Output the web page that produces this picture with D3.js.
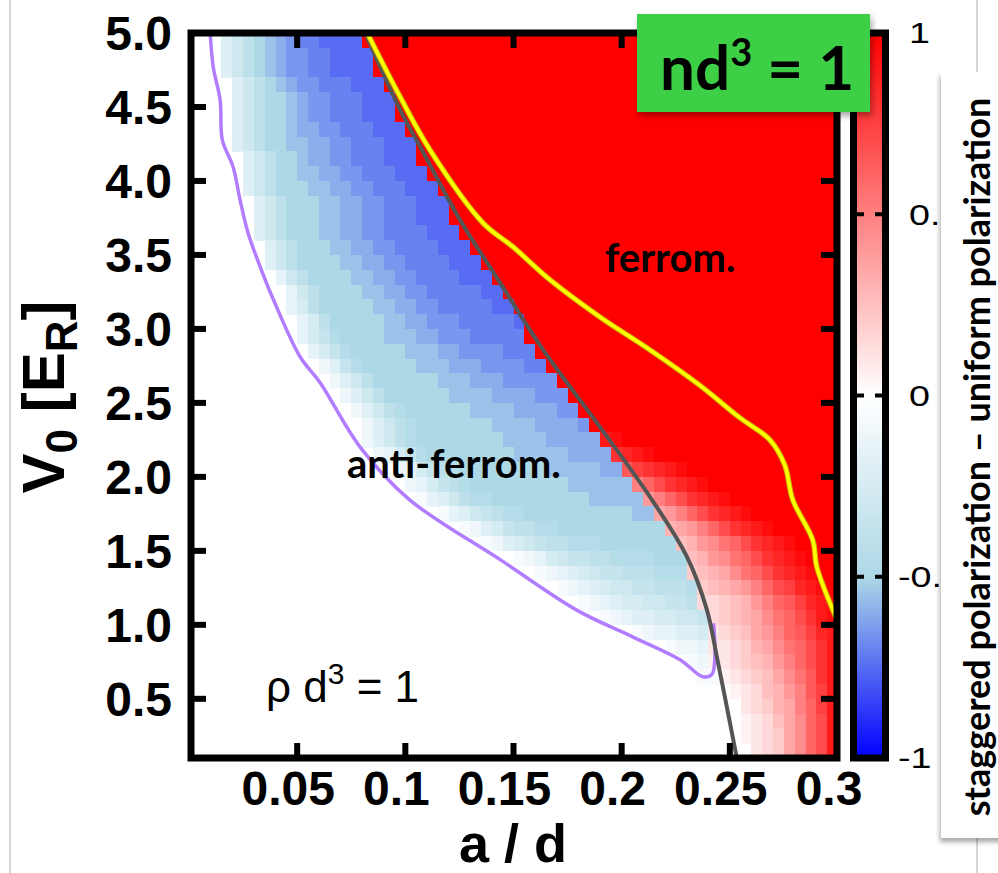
<!DOCTYPE html>
<html><head><meta charset="utf-8">
<script src="https://cdn.jsdelivr.net/npm/d3@7"></script>
<style>
html,body{margin:0;padding:0;background:#fff;}
svg{display:block;}
</style></head><body>
<svg id="chart" width="998" height="873"></svg>
<script>
// ---------------- data ----------------
const xTicks = [0.05, 0.1, 0.15, 0.2, 0.25, 0.3];
const xTickLabels = ["0.05", "0.1", "0.15", "0.2", "0.25", "0.3"];
const yTicks = [0.5, 1.0, 1.5, 2.0, 2.5, 3.0, 3.5, 4.0, 4.5, 5.0];
const yTickLabels = ["0.5", "1.0", "1.5", "2.0", "2.5", "3.0", "3.5", "4.0", "4.5", "5.0"];
const cbTicks = [1, 0.5, 0, -0.5, -1];
const cbTickLabels = ["1", "0.5", "0", "-0.5", "-1"];

// grid: columns a/d = 0 .. 0.3 step 0.005 ; rows V0 = 0.1 .. 5.0 step 0.1
const colStep = 0.005, nCols = 60, rowStep = 0.1;
// each row: [V0 lower edge, first coloured column, anti-ferro codes, ferro codes]
// codes: 'A'..'T' = -0.05 .. -1.0 ; 'a'..'t' = +0.05 .. +1.0 ; '.' = empty
// ferro cells run to the last column; cells past the listed codes are saturated (+1)
const heatRows = [
  [4.9, 3, "DFHJKLMNNOOOO", ""],
  [4.8, 3, "DFHJKLMMNNOOOO", ""],
  [4.7, 3, "DFHJKLMMNNOOOO", ""],
  [4.6, 4, "DFHJKLMMNNNOOO", ""],
  [4.5, 4, "DFHJJKLMMNNNOOO", ""],
  [4.4, 4, "DFHJJKLMMNNNOOO", ""],
  [4.3, 4, "DFHJJKLLMMNNNOOO", ""],
  [4.2, 4, "DFHJJKKLLMMNNNOOO", ""],
  [4.1, 5, "DFHJJKLLMMNNNOOO", ""],
  [4.0, 5, "DFHJJKKLLMMNNNOOO", ""],
  [3.9, 5, "DFHJJJKKLLMMNNNOOO", ""],
  [3.8, 6, "DFHJJJKKLLMMNNNOOO", ""],
  [3.7, 6, "DFHJJJKKLLMMNNNOOO", ""],
  [3.6, 6, "DFHJJJKKLLMMNNNNOOO", ""],
  [3.5, 7, "DFHJJJKKLLMMNNNNOOO", ""],
  [3.4, 7, "DFHJJJJKKLLMMNNNNOOO", ""],
  [3.3, 8, "CFHJJJJKKLLMMNNNNOOO", ""],
  [3.2, 9, "CFHJJJJKKLLMMNNNNNOO", ""],
  [3.1, 9, "CEHJJJJJKKLLMMNNNNNOO", ""],
  [3.0, 10, "CEHJJJJJKKLLMMMNNNNNO", ""],
  [2.9, 10, "CEGIJJJJKKKLLMMMNNNNN", ""],
  [2.8, 11, "CEGIJJJJJKKKLLMMMMNNN", ""],
  [2.7, 12, "BDGIJJJJJKKKLLLMMMMNN", ""],
  [2.6, 13, "BDFHJJJJJJKKKLLLMMMMM", ""],
  [2.5, 14, "BDFHJJJJJJKKKKLLLLMMM", ""],
  [2.4, 15, "BDFHIJJJJJJKKKKLLLLMM", ""],
  [2.3, 16, "BDFHIJJJJJJJKKKKLLLLM", ""],
  [2.2, 16, "BDFHIJJJJJJJJKKKKLLLLL", "rs"],
  [2.1, 17, "BCEGIJJJJJJJJKKKKKLLLL", "pqrs"],
  [2.0, 19, "BCEGHIJJJJJJJJKKKKKLL", "mopqrs"],
  [1.9, 20, "BCEGHIJJJJJJJJJKKKKKK", "jlnpqrs"],
  [1.8, 21, "ACDFHIIJJJJJJJJJKKKKK", "hjlnpqrs"],
  [1.7, 23, "ACDFGHIIJJJJJJJJJJKK", "ghjlnpqrs"],
  [1.6, 25, "ABDEGHHIIJJJJJJJJJJ", "fghjlnpqrs"],
  [1.5, 27, "ABDEFGHHIIIJJJJJJJ", "efhiklnpqrs"],
  [1.4, 30, "ABCEFGGHHIIIIJJJ", "efhiklnpqrs"],
  [1.3, 32, "ABCDEFGGHHHIII", "defgiklnpqrs"],
  [1.2, 34, "ABCDEFFGGHHHI", "defghjlnoqrst"],
  [1.1, 36, "ABCDEEFFGGH", "ccdefhjlmoqrs"],
  [1.0, 38, "ABCDDEEFFG", "cdefgiklnprs"],
  [0.9, 41, "ABCCDDE", "bcdeghjlmoqr"],
  [0.8, 44, "ABBC", "bbcdfgiklnpr"],
  [0.7, 46, "AB", "abcdefhjlnpr"],
  [0.6, 47, "AA", "abcdegikmpr"],
  [0.5, 49, "", ".abcefhjmor"],
  [0.4, 49, "", "..bcdfgjlor"],
  [0.3, 49, "", "..abcegilnr"],
  [0.2, 50, "", ".abcdgilnr"],
  [0.1, 50, "", "..bcdgilnr"]
];

// lines [a/d, V0]
const purpleLine = [[0.0098,5.0],[0.0112,4.77],[0.0144,4.547],[0.0154,4.277],[0.0204,4.095],[0.0236,3.872],[0.0273,3.649],[0.0329,3.42],[0.0385,3.216],[0.0514,2.81],[0.0607,2.635],[0.079,2.203],[0.102,1.845],[0.144,1.439],[0.179,1.101],[0.205,0.919],[0.227,0.764],[0.2375,0.649],[0.2417,0.665],[0.2431,0.797],[0.2425,1.01]];
const grayLine = [[0.0814,5.0],[0.0976,4.48],[0.1077,4.209],[0.1253,3.736],[0.1438,3.311],[0.1637,2.858],[0.1899,2.338],[0.2140,1.845],[0.2302,1.459],[0.2394,1.101],[0.2440,0.784],[0.2486,0.446],[0.2532,0.101]];
const yellowLine = [[0.0824,5.0],[0.0976,4.568],[0.1114,4.209],[0.1359,3.716],[0.1498,3.554],[0.1669,3.331],[0.1899,3.081],[0.2131,2.858],[0.236,2.62],[0.2546,2.40],[0.2685,2.25],[0.2754,2.08],[0.2791,1.845],[0.2883,1.574],[0.2902,1.392],[0.2976,1.101],[0.2998,1.03]];

// ---------------- drawing ----------------
const svg = d3.select("#chart");
const x = d3.scaleLinear().domain([0, 0.3]).range([189, 838]);
const y = d3.scaleLinear().domain([0.1, 5.0]).range([758, 33]);
const cb = d3.scaleLinear().domain([-1, 1]).range([758, 33]);
const color = d3.scaleLinear().domain([-1, -0.5, 0, 1])
  .range(["#0000ff", "#add8e6", "#ffffff", "#ff0000"]).clamp(true);

const defs = svg.append("defs");
defs.append("clipPath").attr("id", "plotclip").append("rect")
  .attr("x", x(0)).attr("y", y(5.0)).attr("width", x(0.3) - x(0)).attr("height", y(0.1) - y(5.0));
const sh = defs.append("filter").attr("id", "shadow").attr("x", "-20%").attr("y", "-20%").attr("width", "140%").attr("height", "140%");
sh.append("feDropShadow").attr("dx", 2).attr("dy", 4).attr("stdDeviation", 3)
  .attr("flood-color", "#000").attr("flood-opacity", 0.35);
const sh2 = defs.append("filter").attr("id", "shadow2").attr("x", "-20%").attr("y", "-5%").attr("width", "140%").attr("height", "110%");
sh2.append("feDropShadow").attr("dx", -1).attr("dy", 4).attr("stdDeviation", 2.5)
  .attr("flood-color", "#000").attr("flood-opacity", 0.35);

// faint frame lines of the slide
svg.append("line").attr("x1", 10).attr("x2", 10).attr("y1", 0).attr("y2", 873)
  .attr("stroke", "#d6d6d6").attr("stroke-width", 2);
svg.append("line").attr("x1", 977).attr("x2", 977).attr("y1", 0).attr("y2", 873)
  .attr("stroke", "#d6d6d6").attr("stroke-width", 2);

function codeValue(ch) {
  if (ch === ".") return null;
  const c = ch.charCodeAt(0);
  if (c >= 65 && c <= 84) return -(c - 64) * 0.05;
  if (c >= 97 && c <= 116) return (c - 96) * 0.05;
  return null;
}
const cells = [];
heatRows.forEach(([v, start, af, fe]) => {
  let col = start;
  for (const ch of af) { cells.push({col, v, val: codeValue(ch)}); col++; }
  for (const ch of fe) { cells.push({col, v, val: codeValue(ch)}); col++; }
  while (col < nCols) { cells.push({col, v, val: 1}); col++; }
});

const plot = svg.append("g").attr("clip-path", "url(#plotclip)");
plot.append("g").selectAll("rect").data(cells.filter(d => d.val !== null)).join("rect")
  .attr("x", d => x(d.col * colStep))
  .attr("y", d => y(d.v + rowStep))
  .attr("width", d => x((d.col + 1) * colStep) - x(d.col * colStep) + 0.6)
  .attr("height", d => y(d.v) - y(d.v + rowStep) + 0.6)
  .attr("fill", d => color(d.val))
  .attr("shape-rendering", "crispEdges");

const line = d3.line().x(d => x(d[0])).y(d => y(d[1])).curve(d3.curveCatmullRom.alpha(0.5));
plot.append("path").attr("d", line(purpleLine)).attr("fill", "none")
  .attr("stroke", "#b27cff").attr("stroke-width", 3.5);
plot.append("path").attr("d", line(grayLine)).attr("fill", "none")
  .attr("stroke", "#555555").attr("stroke-width", 4);
plot.append("path").attr("d", line(yellowLine)).attr("fill", "none")
  .attr("stroke", "#c8b000").attr("stroke-width", 5.5);
plot.append("path").attr("d", line(yellowLine)).attr("fill", "none")
  .attr("stroke", "#ffff00").attr("stroke-width", 3.5);

// frame and ticks
svg.append("rect").attr("x", x(0) + 2).attr("y", y(5.0)).attr("width", x(0.3) - x(0) - 3)
  .attr("height", y(0.1) - y(5.0)).attr("fill", "none").attr("stroke", "#000").attr("stroke-width", 7);
const tk = svg.append("g").attr("stroke", "#000").attr("stroke-width", 6);
yTicks.filter(t => t < 5).forEach(t => {
  tk.append("line").attr("x1", x(0)).attr("x2", x(0) + 17).attr("y1", y(t)).attr("y2", y(t));
  tk.append("line").attr("x1", x(0.3)).attr("x2", x(0.3) - 17).attr("y1", y(t)).attr("y2", y(t));
});
xTicks.filter(t => t < 0.3).forEach(t => {
  tk.append("line").attr("x1", x(t)).attr("x2", x(t)).attr("y1", y(0.1)).attr("y2", y(0.1) - 15);
  tk.append("line").attr("x1", x(t)).attr("x2", x(t)).attr("y1", y(5.0)).attr("y2", y(5.0) + 15);
});

const tickFont = "'Liberation Sans', Arial, Helvetica, sans-serif";
svg.append("g").selectAll("text").data(yTicks).join("text")
  .attr("x", 172).attr("y", d => y(d)).attr("dy", "0.36em")
  .attr("text-anchor", "end").attr("font-family", tickFont).attr("font-weight", "bold")
  .attr("font-size", 48).text((d, i) => yTickLabels[i]);
svg.append("g").selectAll("text").data(xTicks).join("text")
  .attr("x", d => x(d) - 9).attr("y", 805)
  .attr("text-anchor", "middle").attr("font-family", tickFont).attr("font-weight", "bold")
  .attr("font-size", 48).text((d, i) => xTickLabels[i]);

// axis titles
svg.append("text").attr("x", 513).attr("y", 862).attr("text-anchor", "middle")
  .attr("font-family", tickFont).attr("font-weight", "bold").attr("font-size", 54).text("a / d");
const yl = svg.append("text").attr("transform", "translate(64,397) rotate(-90)")
  .attr("text-anchor", "middle").attr("font-family", tickFont).attr("font-weight", "bold").attr("font-size", 60);
yl.append("tspan").text("V");
yl.append("tspan").attr("font-size", 44).attr("dy", 13).text("0");
yl.append("tspan").attr("dy", -13).text(" [E");
yl.append("tspan").attr("font-size", 44).attr("dy", 13).text("R");
yl.append("tspan").attr("dy", -13).text("]");

// colour bar
const grad = defs.append("linearGradient").attr("id", "cbgrad").attr("x1", 0).attr("x2", 0).attr("y1", 1).attr("y2", 0);
d3.range(0, 1.0001, 0.05).forEach(t => {
  grad.append("stop").attr("offset", t).attr("stop-color", color(-1 + 2 * t));
});
svg.append("rect").attr("x", 857).attr("y", cb(1)).attr("width", 25).attr("height", cb(-1) - cb(1))
  .attr("fill", "url(#cbgrad)");
svg.append("rect").attr("x", 853.5).attr("y", cb(1)).attr("width", 32).attr("height", cb(-1) - cb(1))
  .attr("fill", "none").attr("stroke", "#000").attr("stroke-width", 7);
const cbt = svg.append("g").attr("stroke", "#000").attr("stroke-width", 4);
cbTicks.filter(t => Math.abs(t) < 1).forEach(t => {
  cbt.append("line").attr("x1", 856).attr("x2", 864).attr("y1", cb(t)).attr("y2", cb(t));
  cbt.append("line").attr("x1", 875).attr("x2", 883).attr("y1", cb(t)).attr("y2", cb(t));
});
svg.append("g").selectAll("text").data(cbTicks).join("text")
  .attr("transform", d => `translate(${d < 0 ? 898 : 909},${cb(d)}) scale(1.3,1)`)
  .attr("dy", "0.36em")
  .attr("font-family", tickFont).attr("font-size", 29).text((d, i) => cbTickLabels[i]);

// annotations
const annFont = "Lato, 'Open Sans', sans-serif";
svg.append("text").attr("x", 605).attr("y", 272).attr("font-family", annFont).attr("font-weight", "bold")
  .attr("font-size", 40).text("ferrom.");
svg.append("text").attr("x", 347).attr("y", 478).attr("font-family", annFont).attr("font-weight", "bold")
  .attr("font-size", 40).text("anti-ferrom.");
const rho = svg.append("text").attr("x", 266).attr("y", 702).attr("font-family", tickFont).attr("font-size", 44);
rho.append("tspan").text("ρ d");
rho.append("tspan").attr("font-size", 30).attr("dy", -18).text("3");
rho.append("tspan").attr("dy", 18).text(" = 1");

// green label box
svg.append("rect").attr("x", 637).attr("y", 14).attr("width", 233).attr("height", 98)
  .attr("fill", "#3ccf45").attr("filter", "url(#shadow)");
const nd = svg.append("text").attr("x", 660).attr("y", 90).attr("font-family", annFont).attr("font-weight", "bold")
  .attr("font-size", 62).attr("fill", "#000");
nd.append("tspan").text("nd");
nd.append("tspan").attr("font-size", 38).attr("dy", -24).text("3");
nd.append("tspan").attr("dy", 24).text(" = 1");

// white title box for the colour bar
svg.append("rect").attr("x", 941).attr("y", 72).attr("width", 80).attr("height", 766)
  .attr("fill", "#fff").attr("filter", "url(#shadow2)");
svg.append("text").attr("transform", "translate(990,457) rotate(-90)").attr("text-anchor", "middle")
  .attr("font-family", annFont).attr("font-weight", "bold").attr("font-size", 36)
  .text("staggered polarization – uniform polarization");
</script>
</body></html>
